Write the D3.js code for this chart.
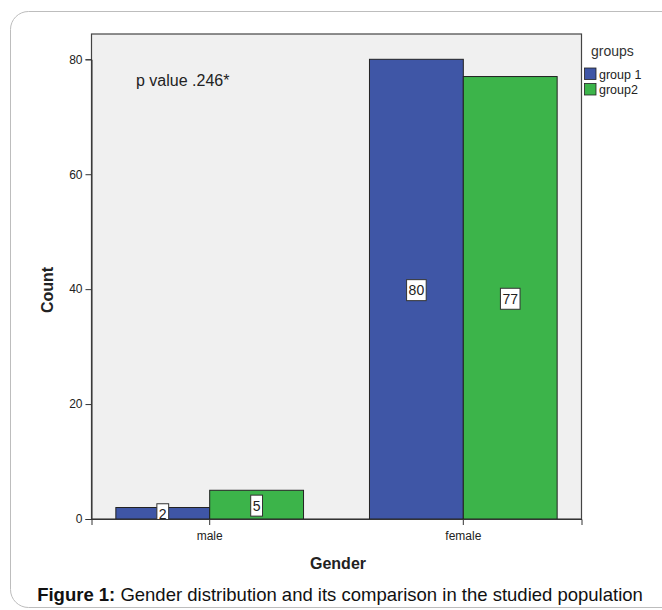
<!DOCTYPE html>
<html><head><meta charset="utf-8">
<script src="https://cdn.jsdelivr.net/npm/d3@7"></script>
<style>body{margin:0;background:#fff;}svg{display:block;font-family:"Liberation Sans",Arial,sans-serif;}</style>
</head><body><svg id="c" width="662" height="610"></svg>
<script>
const categories = ["male", "female"];
const groups = ["group 1", "group2"];
const group1 = [2, 80];
const group2 = [5, 77];
const yTicks = [0, 20, 40, 60, 80];
const colors = ["#3f56a6", "#3cb44a"];

const svg = d3.select("#c");
// outer rounded frame
svg.append("rect").attr("x", 10.5).attr("y", 11.5).attr("width", 670).attr("height", 596)
  .attr("rx", 18).attr("fill", "#fff").attr("stroke", "#bdbdbd").attr("stroke-width", 1);

const L = 91.5, R = 581.5, T = 34, B = 519;
const y = d3.scaleLinear().domain([0, 80]).range([B, B - 459.7]);
const x0 = d3.scaleBand().domain(categories).range([L, R]).paddingInner(0.26).paddingOuter(0.096);
const x1 = d3.scaleBand().domain(groups).range([0, x0.bandwidth()]);

svg.append("defs").append("clipPath").attr("id", "plotclip")
  .append("rect").attr("x", L).attr("y", T).attr("width", R - L).attr("height", B - T);

svg.append("rect").attr("x", L).attr("y", T).attr("width", R - L).attr("height", B - T)
  .attr("fill", "#f0f0f0").attr("stroke", "#444").attr("stroke-width", 1.2);

const data = categories.map((c, i) => ({cat: c, vals: [group1[i], group2[i]]}));
const g = svg.append("g");
data.forEach(d => {
  d.vals.forEach((v, j) => {
    const bx = x0(d.cat) + x1(groups[j]);
    g.append("rect").attr("x", bx).attr("y", y(v)).attr("width", x1.bandwidth()).attr("height", B - y(v))
      .attr("fill", colors[j]).attr("stroke", "#222").attr("stroke-width", 1);
  });
});
// value labels
const lg = svg.append("g").attr("clip-path", "url(#plotclip)");
data.forEach(d => {
  d.vals.forEach((v, j) => {
    const cx = x0(d.cat) + x1(groups[j]) + x1.bandwidth() / 2;
    const cy = y(v / 2) + 1;
    const txt = String(v);
    const w = txt.length * 7.8 + 4, h = 21;
    lg.append("rect").attr("x", cx - w / 2).attr("y", cy - h / 2).attr("width", w).attr("height", h)
      .attr("fill", "#fff").attr("stroke", "#333").attr("stroke-width", 1);
    lg.append("text").attr("x", cx).attr("y", cy + 5).attr("text-anchor", "middle")
      .attr("font-size", 14).attr("fill", "#222").text(txt);
  });
});

// y axis
const yAxis = d3.axisLeft(y).tickValues(yTicks).tickSize(6).tickPadding(3);
const ya = svg.append("g").attr("transform", `translate(${L},0)`).call(yAxis);
ya.select(".domain").attr("stroke", "#333");
ya.selectAll(".tick line").attr("stroke", "#333");
ya.selectAll("text").attr("font-size", 12).attr("fill", "#222").attr("font-family", "Liberation Sans, Arial, sans-serif");

// x axis
const xAxis = d3.axisBottom(x0).tickSize(6).tickPadding(6);
const xa = svg.append("g").attr("transform", `translate(0,${B})`).call(xAxis);
xa.select(".domain").attr("stroke", "#333");
xa.selectAll(".tick line").attr("stroke", "#333");
xa.selectAll("text").attr("font-size", 12).attr("fill", "#222").attr("font-family", "Liberation Sans, Arial, sans-serif");

// axis titles
svg.append("text").attr("x", 338).attr("y", 569).attr("text-anchor", "middle")
  .attr("font-size", 16).attr("font-weight", "bold").attr("fill", "#222").text("Gender");
svg.append("text").attr("transform", `translate(53,290) rotate(-90)`).attr("text-anchor", "middle")
  .attr("font-size", 16).attr("font-weight", "bold").attr("fill", "#222").text("Count");

// annotation
svg.append("text").attr("x", 136).attr("y", 86).attr("font-size", 16).attr("fill", "#222").text("p value .246*");

// legend
svg.append("text").attr("x", 591).attr("y", 56).attr("font-size", 14).attr("fill", "#333").text("groups");
groups.forEach((gname, j) => {
  const ly = 68 + j * 15.5;
  svg.append("rect").attr("x", 584.5).attr("y", ly).attr("width", 11.5).attr("height", 11.5)
    .attr("fill", colors[j]).attr("stroke", "#222").attr("stroke-width", 0.8);
  svg.append("text").attr("x", 599).attr("y", ly + 10.5).attr("font-size", 12.5).attr("fill", "#222").text(gname);
});

// caption
const cap = svg.append("text").attr("x", 340).attr("y", 601).attr("text-anchor", "middle")
  .attr("font-size", 18.5).attr("fill", "#111");
cap.append("tspan").attr("font-weight", "bold").text("Figure 1:");
cap.append("tspan").text(" Gender distribution and its comparison in the studied population");
</script></body></html>
